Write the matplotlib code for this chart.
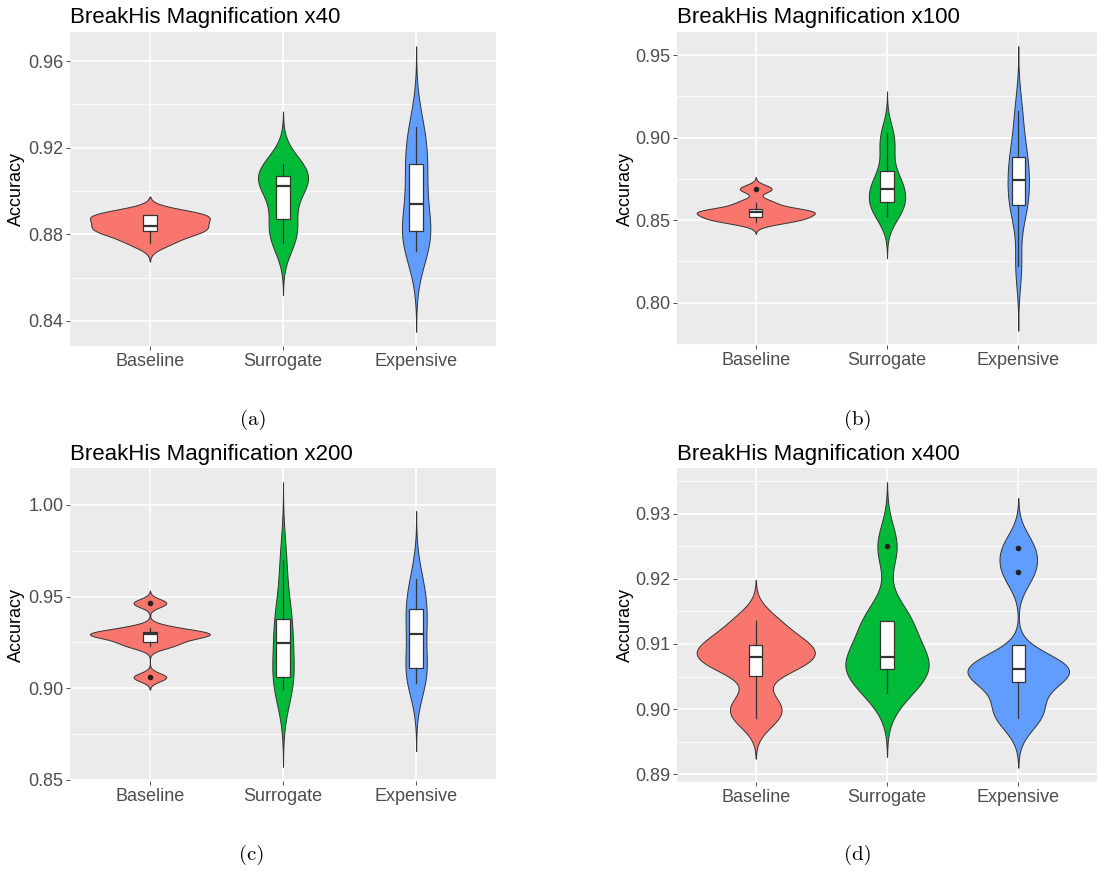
import numpy as np
import matplotlib
matplotlib.use("Agg")
import matplotlib.pyplot as plt
from matplotlib.ticker import FixedLocator, MultipleLocator

categories = ["Baseline", "Surrogate", "Expensive"]
colors = ["#F8766D", "#00BA38", "#619CFF"]

# ---- accuracy samples per magnification / method ----
x40_baseline = [0.8759, 0.880, 0.882, 0.883, 0.885, 0.8889, 0.8889, 0.8889]
x40_surrogate = [0.876, 0.882, 0.889, 0.901, 0.904, 0.906, 0.910, 0.9126]
x40_expensive = [0.8725, 0.877, 0.8833, 0.886, 0.9024, 0.910, 0.9204, 0.9294]

x100_baseline = [0.8488, 0.851, 0.8519, 0.8548, 0.8556, 0.8558, 0.8607, 0.869]
x100_surrogate = [0.8524, 0.858, 0.8617, 0.866, 0.8722, 0.876, 0.8916, 0.9026]
x100_expensive = [0.8223, 0.855, 0.8603, 0.870, 0.8786, 0.886, 0.8963, 0.9161]

x200_baseline = [0.906, 0.9231, 0.926, 0.9293, 0.9295, 0.9296, 0.9328, 0.9464]
x200_surrogate = [0.8995, 0.903, 0.907, 0.918, 0.9311, 0.935, 0.9463, 0.970]
x200_expensive = [0.9027, 0.907, 0.9122, 0.924, 0.9353, 0.941, 0.9494, 0.9596]

x400_baseline = [0.8986, 0.901, 0.9065, 0.9072, 0.9088, 0.9094, 0.911, 0.9136]
x400_surrogate = [0.9025, 0.905, 0.9066, 0.9072, 0.9088, 0.9136, 0.9136, 0.925]
x400_expensive = [0.8986, 0.9005, 0.9054, 0.906, 0.9062, 0.9062, 0.921, 0.9248]

titles = ["BreakHis Magnification x40", "BreakHis Magnification x100",
          "BreakHis Magnification x200", "BreakHis Magnification x400"]
captions = ["(a)", "(b)", "(c)", "(d)"]
major_ticks = [[0.84, 0.88, 0.92, 0.96],
               [0.80, 0.85, 0.90, 0.95],
               [0.85, 0.90, 0.95, 1.00],
               [0.89, 0.90, 0.91, 0.92, 0.93]]
panel_data = [[x40_baseline, x40_surrogate, x40_expensive],
              [x100_baseline, x100_surrogate, x100_expensive],
              [x200_baseline, x200_surrogate, x200_expensive],
              [x400_baseline, x400_surrogate, x400_expensive]]

W, H = 1098, 871
fig = plt.figure(figsize=(W / 100, H / 100), dpi=100)
fig.patch.set_facecolor("white")

# pixel boxes: left, top, right, bottom
boxes = [(70, 32, 496, 346), (677, 32, 1097, 345),
         (70, 468, 496, 781), (677, 468, 1097, 782)]
title_base = [23.5, 23.5, 459.5, 459.5]
ylabel_x = [16, 625, 16, 625]
caption_pos = [(253, 420), (858, 420), (252, 855), (858, 855)]

SANS = "Liberation Sans"


def nrd0(x):
    x = np.asarray(x)
    sd = np.std(x, ddof=1)
    q75, q25 = np.percentile(x, [75, 25])
    lo = min(sd, (q75 - q25) / 1.34)
    if lo <= 0:
        lo = sd
    return 0.9 * lo * len(x) ** (-0.2)


def kde(x, n=512):
    x = np.asarray(x)
    bw = nrd0(x)
    grid = np.linspace(x.min() - 3 * bw, x.max() + 3 * bw, n)
    d = np.exp(-0.5 * ((grid[:, None] - x[None, :]) / bw) ** 2).sum(axis=1)
    d /= (len(x) * bw * np.sqrt(2 * np.pi))
    return grid, d


for k in range(4):
    l, t, r, b = boxes[k]
    ax = fig.add_axes([l / W, 1 - b / H, (r - l) / W, (b - t) / H])
    ax.set_facecolor("#EBEBEB")
    for s in ax.spines.values():
        s.set_visible(False)

    dens = [kde(d) for d in panel_data[k]]
    dmax = max(dd.max() for _, dd in dens)
    ymin = min(g.min() for g, _ in dens)
    ymax = max(g.max() for g, _ in dens)
    for i, (g, dd) in enumerate(dens):
        w = dd / dmax * 0.45
        ax.fill_betweenx(g, i + 1 - w, i + 1 + w, facecolor=colors[i],
                         edgecolor="#333333", linewidth=0.7, zorder=2)
    ax.boxplot(panel_data[k], positions=[1, 2, 3], widths=0.1,
               patch_artist=True, showcaps=False, whis=1.5,
               boxprops=dict(facecolor="white", edgecolor="#333333", linewidth=0.9),
               medianprops=dict(color="#333333", linewidth=1.6),
               whiskerprops=dict(color="#333333", linewidth=0.9),
               flierprops=dict(marker="o", markerfacecolor="#222222",
                               markeredgecolor="#222222", markersize=3),
               zorder=3, manage_ticks=False)

    span = ymax - ymin
    ax.set_ylim(ymin - 0.05 * span, ymax + 0.05 * span)
    ax.set_xlim(0.4, 3.6)
    mt = major_ticks[k]
    step = mt[1] - mt[0]
    ax.yaxis.set_major_locator(FixedLocator(mt))
    ax.yaxis.set_minor_locator(MultipleLocator(step / 2))
    ax.set_yticklabels(["%.2f" % v for v in mt])
    ax.set_xticks([1, 2, 3])
    ax.set_xticklabels(categories)
    ax.grid(True, which="major", color="white", linewidth=1.2, zorder=0)
    ax.grid(True, which="minor", axis="y", color="white", linewidth=0.6, zorder=0)
    ax.set_axisbelow(True)
    ax.tick_params(axis="both", which="major", length=2.75, width=0.6,
                   color="#333333", labelcolor="#4D4D4D", labelsize=13, pad=2)
    ax.tick_params(axis="y", which="minor", length=0)
    for lab in ax.get_xticklabels() + ax.get_yticklabels():
        lab.set_fontfamily(SANS)

    fig.text(l / W, 1 - title_base[k] / H, titles[k], ha="left", va="baseline",
             fontsize=16, family=SANS, color="black")
    fig.text(ylabel_x[k] / W, 1 - ((t + b) / 2) / H, "Accuracy", rotation=90,
             ha="center", va="center", fontsize=13, family=SANS, color="black")
    cx, cy = caption_pos[k]
    fig.text(cx / W, 1 - cy / H, captions[k], ha="center", va="center",
             fontsize=15, family="cmr10", color="black")

fig.savefig("out.png", dpi=100, facecolor="white")
